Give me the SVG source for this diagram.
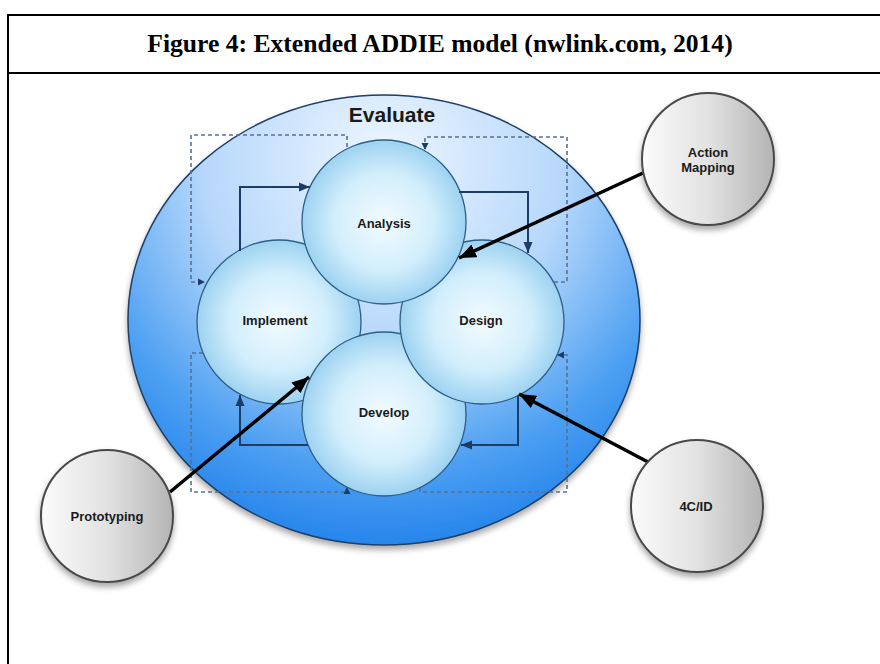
<svg xmlns="http://www.w3.org/2000/svg" width="880" height="664" viewBox="0 0 880 664">
  <style>
    .frame { fill: none; stroke: #000; stroke-width: 2; }
    .title { font-family: "Liberation Serif", "Times New Roman", serif; font-weight: bold; font-size: 25.6px; fill: #000; text-anchor: middle; }
    .phase { fill: url(#phaseFill); stroke: #2d5f86; stroke-width: 1.3; }
    .ext { fill: url(#extFill); stroke: #4a4a4a; stroke-width: 2; filter: url(#shadow); }
    .label { font-family: "Liberation Sans", Arial, sans-serif; font-weight: bold; font-size: 13px; fill: #1a1a1a; text-anchor: middle; }
    .big { font-family: "Liberation Sans", Arial, sans-serif; font-weight: bold; font-size: 21px; fill: #1a1a1a; text-anchor: middle; }
    .flow { fill: none; stroke: #1d3d66; stroke-width: 2; marker-end: url(#navyHead); }
    .loop { fill: none; stroke: #5a7090; stroke-width: 1.6; stroke-dasharray: 4 3; marker-end: url(#smallHead); }
    .input { fill: none; stroke: #000; stroke-width: 3.5; marker-end: url(#blackHead); }
  </style>
  <defs>
    <radialGradient id="evalFill" gradientUnits="userSpaceOnUse" cx="384" cy="160" r="400">
      <stop offset="0" stop-color="#eef6ff"/>
      <stop offset="0.45" stop-color="#b7d8fb"/>
      <stop offset="0.78" stop-color="#4c9ff2"/>
      <stop offset="1" stop-color="#1f80ea"/>
    </radialGradient>
    <radialGradient id="phaseFill" cx="0.5" cy="0.5" r="0.5">
      <stop offset="0" stop-color="#f2fbff"/>
      <stop offset="0.6" stop-color="#d2eefc"/>
      <stop offset="1" stop-color="#9dd2f1"/>
    </radialGradient>
    <linearGradient id="extFill" x1="0" y1="0" x2="1" y2="0">
      <stop offset="0" stop-color="#fbfbfb"/>
      <stop offset="0.5" stop-color="#e2e2e2"/>
      <stop offset="1" stop-color="#b4b4b4"/>
    </linearGradient>
    <filter id="shadow" x="-20%" y="-20%" width="140%" height="150%">
      <feGaussianBlur in="SourceAlpha" stdDeviation="3"/>
      <feOffset dy="4" result="b"/>
      <feComponentTransfer><feFuncA type="linear" slope="0.35"/></feComponentTransfer>
      <feMerge><feMergeNode/><feMergeNode in="SourceGraphic"/></feMerge>
    </filter>
    <marker id="navyHead" markerUnits="userSpaceOnUse" markerWidth="12" markerHeight="10" refX="11" refY="5" orient="auto">
      <path d="M0,0.5 L11,5 L0,9.5 Z" fill="#1d3d66"/>
    </marker>
    <marker id="smallHead" markerUnits="userSpaceOnUse" markerWidth="8" markerHeight="8" refX="7" refY="4" orient="auto">
      <path d="M0,0.5 L7,4 L0,7.5 Z" fill="#1d3d66"/>
    </marker>
    <marker id="blackHead" markerUnits="userSpaceOnUse" markerWidth="18" markerHeight="14" refX="17" refY="7" orient="auto">
      <path d="M0,0 L17,7 L0,14 Z" fill="#000"/>
    </marker>
  </defs>

  <rect width="880" height="664" fill="#fff"/>

  <!-- figure frame and caption -->
  <g id="frame">
    <path class="frame" d="M8,664 V15 H880 M8,73 H880"/>
    <text class="title" x="440" y="52">Figure 4: Extended ADDIE model (nwlink.com, 2014)</text>
  </g>

  <!-- outer evaluation ring -->
  <g id="evaluate">
    <ellipse cx="384" cy="320" rx="256" ry="225" fill="url(#evalFill)" stroke="#1f3f66" stroke-width="1.5" filter="url(#shadow)"/>
    <text class="big" x="392" y="122">Evaluate</text>
  </g>

  <!-- dashed evaluation loops -->
  <g id="loops">
    <path class="loop" d="M347,147 V135 H191 V282 H205"/>
    <path class="loop" d="M554,282 H567 V137 H425 V150"/>
    <path class="loop" d="M420,488 V492 H567 V355 H557"/>
    <path class="loop" d="M203,353 H191 V492 H347 V487"/>
  </g>

  <!-- ADDIE phases -->
  <g id="implement">
    <circle class="phase" cx="279" cy="322" r="82"/>
    <text class="label" x="275" y="325">Implement</text>
  </g>
  <g id="develop">
    <circle class="phase" cx="384" cy="414" r="82"/>
    <text class="label" x="384" y="417">Develop</text>
  </g>
  <g id="design">
    <circle class="phase" cx="482" cy="322" r="82"/>
    <text class="label" x="481" y="325">Design</text>
  </g>
  <g id="analysis">
    <circle class="phase" cx="384" cy="222" r="82"/>
    <text class="label" x="384" y="228">Analysis</text>
  </g>

  <!-- phase-to-phase flow -->
  <g id="connectors">
    <path class="flow" d="M240,251 V187 H310"/>
    <path class="flow" d="M459,192 H528 V253"/>
    <path class="flow" d="M518,396 V445 H461"/>
    <path class="flow" d="M308,445 H240 V395"/>
    <path class="input" d="M643,173 L459,258"/>
    <path class="input" d="M170,492 L309,377"/>
    <path class="input" d="M648,462 L519,394"/>
  </g>

  <!-- external methods -->
  <g id="action-mapping">
    <circle class="ext" cx="708" cy="159" r="66"/>
    <text class="label" x="708" y="157">Action</text>
    <text class="label" x="708" y="172">Mapping</text>
  </g>
  <g id="prototyping">
    <circle class="ext" cx="107" cy="516" r="66"/>
    <text class="label" x="107" y="521">Prototyping</text>
  </g>
  <g id="fourcid">
    <circle class="ext" cx="697" cy="506" r="66"/>
    <text class="label" x="696" y="511">4C/ID</text>
  </g>
</svg>
